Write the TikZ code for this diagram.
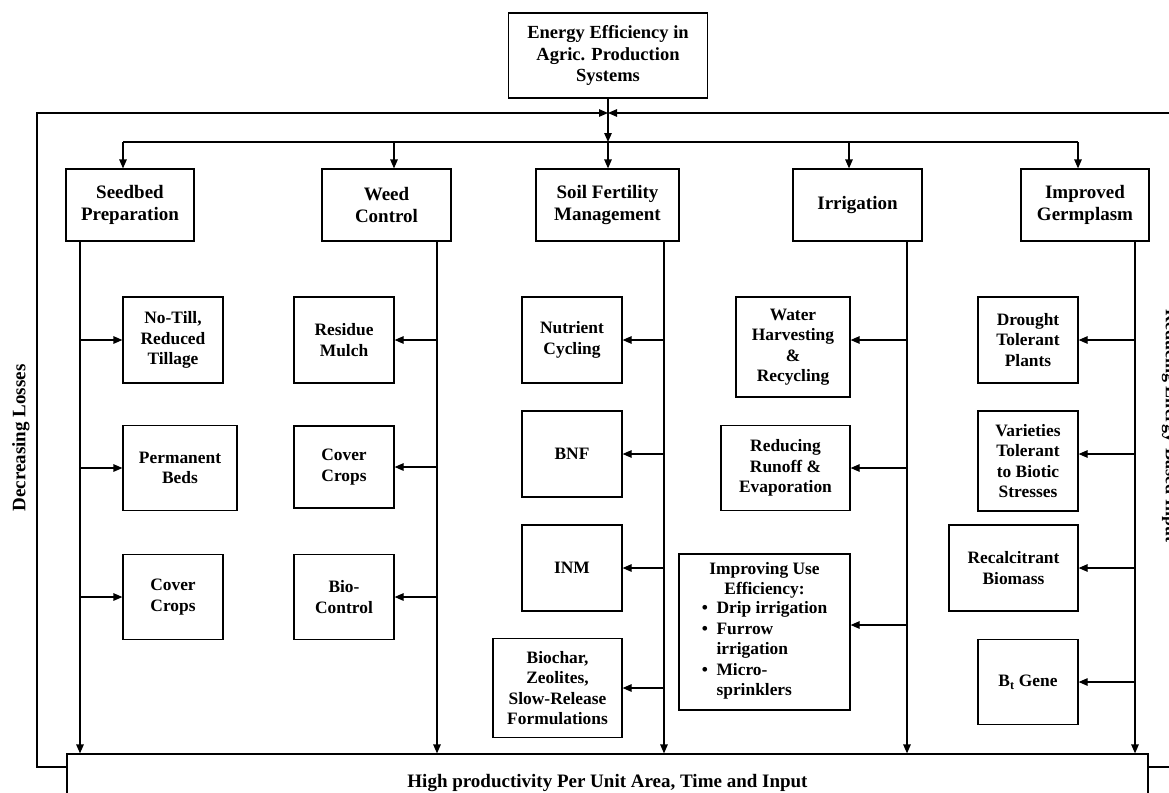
\documentclass[tikz,border=0pt]{standalone}
\usepackage{fontspec}
\setmainfont{Liberation Serif}
\usetikzlibrary{arrows.meta}

\begin{document}
\begin{tikzpicture}[
  x=1pt, y=-1pt,
  font=\bfseries\fontsize{17.4}{20.5}\selectfont,
  >={Triangle[length=9pt,width=7.5pt]},
  box/.style={draw, line width=1.2pt, align=center, inner sep=2pt},
  topbox/.style={box, minimum width=199pt, minimum height=85pt, font=\bfseries\fontsize{18.5}{21.5}\selectfont},
  head/.style={box, minimum width=128pt, minimum height=72pt, font=\bfseries\fontsize{19}{22}\selectfont},
  sub/.style={box, minimum width=100pt, minimum height=86pt},
  arr/.style={->, line width=1.2pt},
  link/.style={line width=1.2pt},
  side/.style={font=\bfseries\fontsize{19}{22}\selectfont}
]
\useasboundingbox (0,0) rectangle (1169,792);
\clip (0,0) rectangle (1169,792);

\node[topbox] (top) at (608,55.5) {Energy Efficiency in\\Agric. Production\\Systems};

\node[head] (seedbed) at (130,205) {Seedbed\\Preparation};
\node[head, minimum width=129pt] (weed) at (386.5,205) {Weed\\Control};
\node[head, minimum width=143pt] (soil) at (607.5,205) {Soil Fertility\\Management};
\node[head, minimum width=129pt] (irrig) at (857.5,205) {Irrigation};
\node[head] (germ) at (1085,205) {Improved\\Germplasm};

\node[sub] (notill) at (173,340) {No-Till,\\Reduced\\Tillage};
\node[sub, minimum width=114pt, minimum height=85pt] (pbeds) at (180,468) {Permanent\\Beds};
\node[sub, minimum height=85pt] (ccrops) at (173,597) {Cover\\Crops};

\node[sub] (mulch) at (344,340) {Residue\\Mulch};
\node[sub, minimum height=82pt] (wcover) at (344,467) {Cover\\Crops};
\node[sub, minimum height=85pt] (biocon) at (344,597) {Bio-\\Control};

\node[sub] (nutcyc) at (572,340) {Nutrient\\Cycling};
\node[sub] (bnf) at (572,454) {BNF};
\node[sub] (inm) at (572,568) {INM};
\node[sub, minimum width=129pt, minimum height=99pt] (biochar) at (557.5,688) {Biochar,\\Zeolites,\\Slow-Release\\Formulations};

\node[sub, minimum width=114pt, minimum height=100pt] (water) at (793,347) {Water\\Harvesting\\\&\\Recycling};
\node[sub, minimum width=129pt, minimum height=85pt] (runoff) at (785.5,468) {Reducing\\Runoff \&\\Evaporation};
\node[sub, minimum width=171pt, minimum height=156pt] (useeff) at (764.5,632) {Improving Use\\Efficiency:\\
  \begin{tabular}{@{}c@{\ \ }l@{}}
  \textbullet & Drip irrigation\\
  \textbullet & Furrow\\
              & irrigation\\
  \textbullet & Micro-\\
              & sprinklers
  \end{tabular}};

\node[sub] (drought) at (1028,340) {Drought\\Tolerant\\Plants};
\node[sub, minimum height=100pt] (biotic) at (1028,461) {Varieties\\Tolerant\\to Biotic\\Stresses};
\node[sub, minimum width=129pt] (recalc) at (1013.5,568) {Recalcitrant\\Biomass};
\node[sub, minimum height=85pt] (btgene) at (1028,682) {B\textsubscript{t} Gene};

\node[box, minimum width=1081pt, minimum height=58pt, font=\bfseries\fontsize{19}{22}\selectfont] (prod) at (607.5,783) {High productivity Per Unit Area, Time and Input};

\node[side, rotate=90] (declab) at (21,438) {Decreasing Losses};
\node[side, rotate=-90, font=\bfseries\fontsize{18}{21}\selectfont] (redlab) at (1170,426) {Reducing Energy-Based Input};

\coordinate (bus) at (0,142);
\coordinate (b1) at (123,142);
\coordinate (b2) at (394,142);
\coordinate (b4) at (849,142);
\coordinate (b5) at (1078,142);
\coordinate (c1) at (80,0);
\coordinate (c2) at (437,0);
\coordinate (c3) at (664,0);
\coordinate (c4) at (907,0);
\coordinate (c5) at (1135,0);
\coordinate (meet) at (608,113);
\coordinate (loopL) at (37,767);
\coordinate (loopR) at (1190,767);

\draw[arr] (top.south) -- (top.south |- bus);
\draw[link] (b1) -- (b5);
\draw[arr] (b1) -- (b1 |- seedbed.north);
\draw[arr] (b2) -- (b2 |- weed.north);
\draw[arr] (top.south |- bus) -- (top.south |- soil.north);
\draw[arr] (b4) -- (b4 |- irrig.north);
\draw[arr] (b5) -- (b5 |- germ.north);

\draw[arr] (loopL -| prod.west) -- (loopL) |- (meet);
\draw[arr] (loopR -| prod.east) -- (loopR) |- (meet);

\draw[arr] (seedbed.south -| c1) -- (c1 |- prod.north);
\draw[arr] (weed.south -| c2) -- (c2 |- prod.north);
\draw[arr] (soil.south -| c3) -- (c3 |- prod.north);
\draw[arr] (irrig.south -| c4) -- (c4 |- prod.north);
\draw[arr] (germ.south -| c5) -- (c5 |- prod.north);

\foreach \n in {notill, pbeds, ccrops}
  \draw[arr] (\n.west -| c1) -- (\n.west);
\foreach \n in {mulch, wcover, biocon}
  \draw[arr] (\n.east -| c2) -- (\n.east);
\foreach \n in {nutcyc, bnf, inm, biochar}
  \draw[arr] (\n.east -| c3) -- (\n.east);
\draw[arr] ([yshift=7pt]water.east -| c4) -- ([yshift=7pt]water.east);
\draw[arr] (runoff.east -| c4) -- (runoff.east);
\draw[arr] ([yshift=7pt]useeff.east -| c4) -- ([yshift=7pt]useeff.east);
\draw[arr] (drought.east -| c5) -- (drought.east);
\draw[arr] ([yshift=7pt]biotic.east -| c5) -- ([yshift=7pt]biotic.east);
\draw[arr] (recalc.east -| c5) -- (recalc.east);
\draw[arr] (btgene.east -| c5) -- (btgene.east);
\end{tikzpicture}
\end{document}
